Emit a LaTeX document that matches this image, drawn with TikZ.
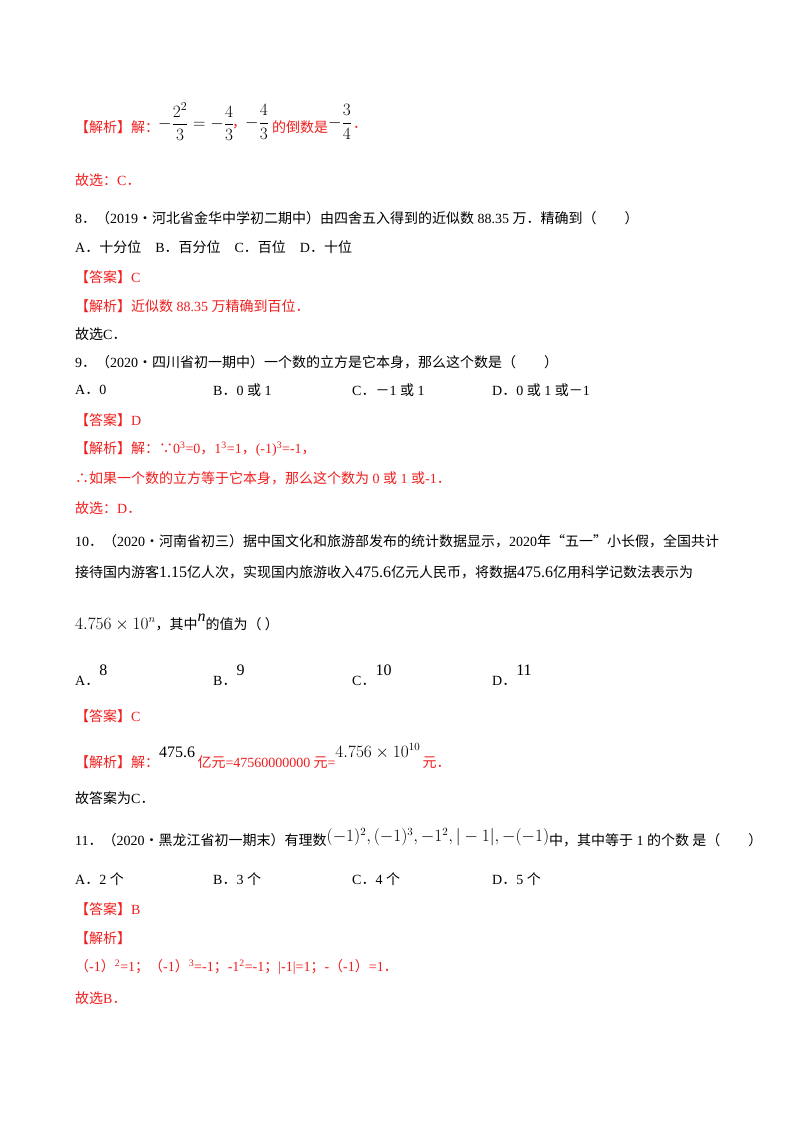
\documentclass[tikz,border=0pt]{standalone}
\usepackage{amsmath}
\usepackage{fontspec}
\setmainfont{Liberation Serif}
\newfontfamily\cjk{Noto Sans CJK SC}
\newcommand{\R}[1]{{\rmfamily #1}}
\definecolor{ans}{RGB}{240,30,30}
\begin{document}
\begin{tikzpicture}[x=1pt,y=-1pt,
 t/.style={anchor=west,inner sep=0pt,font=\fontsize{14}{16}\selectfont\cjk},
 r/.style={t,text=ans},
 m/.style={anchor=west,inner sep=0pt,font=\fontsize{17}{19}\selectfont}]
\useasboundingbox[fill=white] (0,0) rectangle (800,1132);
\node[r] (a1) at (75,127) {【解析】解：};
\node[m] (a2) at (158,122) {$-\dfrac{2^2}{3}=-\dfrac{4}{3}$};
\node[r] (a3) at (232,127) {，};
\node[m] (a4) at (245,122) {$-\dfrac{4}{3}$};
\node[r] (a5) at (272,127) {的倒数是};
\node[m] (a6) at (328,122) {$-\dfrac{3}{4}$};
\node[r] (a7) at (353,127) {．};
\node[r] (b1) at (75,180) {故选：\R{C}．};
\node[t] (c1) at (75,218) {\R{8}．（\R{2019}·河北省金华中学初二期中）由四舍五入得到的近似数\R{ 88.35 }万．精确到（　　）};
\node[t] (c2) at (75,247) {\R{A}．十分位\quad\R{B}．百分位\quad\R{C}．百位\quad\R{D}．十位};
\node[r] (c3) at (75,277) {【答案】\R{C}};
\node[r] (c4) at (75,306) {【解析】近似数\R{ 88.35 }万精确到百位．};
\node[t] (c5) at (75,334) {故选\R{C}．};
\node[t] (d1) at (75,362) {\R{9}．（\R{2020}·四川省初一期中）一个数的立方是它本身，那么这个数是（　　）};
\node[t] (d2) at (75,390) {\R{A}．\R{0}};
\node[t] (d3) at (213,390) {\R{B}．\R{0 }或\R{ 1}};
\node[t] (d4) at (352,390) {\R{C}．－\R{1 }或\R{ 1}};
\node[t] (d5) at (492,390) {\R{D}．\R{0 }或\R{ 1 }或－\R{1}};
\node[r] (d6) at (75,420) {【答案】\R{D}};
\node[r] (d7) at (75,449) {【解析】解：∵\R{0\textsuperscript{3}=0}，\R{1\textsuperscript{3}=1}，\R{(-1)\textsuperscript{3}=-1}，};
\node[r] (d8) at (75,478) {∴如果一个数的立方等于它本身，那么这个数为\R{ 0 }或\R{ 1 }或\R{-1}．};
\node[r] (d9) at (75,508) {故选：\R{D}．};
\node[t] (e1) at (75,541) {\R{10}．（\R{2020}·河南省初三）据中国文化和旅游部发布的统计数据显示，\R{2020}年“五一”小长假，全国共计};
\node[t] (e2) at (75,572) {接待国内游客\R{\fontsize{16}{18}\selectfont 1.15}亿人次，实现国内旅游收入\R{\fontsize{16}{18}\selectfont 475.6}亿元人民币，将数据\R{\fontsize{16}{18}\selectfont 475.6}亿用科学记数法表示为};
\node[t] (e3) at (75,622) {\R{\fontsize{16}{18}\selectfont $4.756\times10^{n}$}，其中\R{\fontsize{16}{18}\selectfont\itshape\raisebox{8pt}{n}}的值为（ ）};
\node[t] (e4) at (75,675) {\R{A}．\R{\fontsize{16}{18}\selectfont\raisebox{10pt}{8}}};
\node[t] (e5) at (213,675) {\R{B}．\R{\fontsize{16}{18}\selectfont\raisebox{10pt}{9}}};
\node[t] (e6) at (352,675) {\R{C}．\R{\fontsize{16}{18}\selectfont\raisebox{10pt}{10}}};
\node[t] (e7) at (492,675) {\R{D}．\R{\fontsize{16}{18}\selectfont\raisebox{10pt}{11}}};
\node[r] (e8) at (75,716) {【答案】\R{C}};
\node[r] (e9) at (75,756) {【解析】解：\textcolor{black}{\R{\fontsize{16}{18}\selectfont\raisebox{10pt}{475.6}}}\,亿元\R{=47560000000} 元\R{=}\textcolor{black}{\raisebox{10pt}{\R{\fontsize{16}{18}\selectfont $4.756\times10^{10}$}}}\,元．};
\node[t] (e10) at (75,798) {故答案为\R{C}．};
\node[t] (f1) at (75,838) {\R{11}．（\R{2020}·黑龙江省初一期末）有理数\raisebox{4pt}{\R{\fontsize{16}{18}\selectfont $(-1)^2,(-1)^3,-1^2,|-1|,-(-1)$}}中，其中等于\R{ 1 }的个数 是（　　）};
\node[t] (f2) at (75,879) {\R{A}．\R{2 }个};
\node[t] (f3) at (213,879) {\R{B}．\R{3 }个};
\node[t] (f4) at (352,879) {\R{C}．\R{4 }个};
\node[t] (f5) at (492,879) {\R{D}．\R{5 }个};
\node[r] (f6) at (75,909) {【答案】\R{B}};
\node[r] (f7) at (75,938) {【解析】};
\node[r] (f8) at (75,967) {（\R{-1}）\R{\textsuperscript{2}=1}；（\R{-1}）\R{\textsuperscript{3}=-1}；\R{-1\textsuperscript{2}=-1}；\R{|-1|=1}；\R{-}（\R{-1}）\R{=1}．};
\node[r] (f9) at (75,998) {故选\R{B}．};
\end{tikzpicture}
\end{document}
